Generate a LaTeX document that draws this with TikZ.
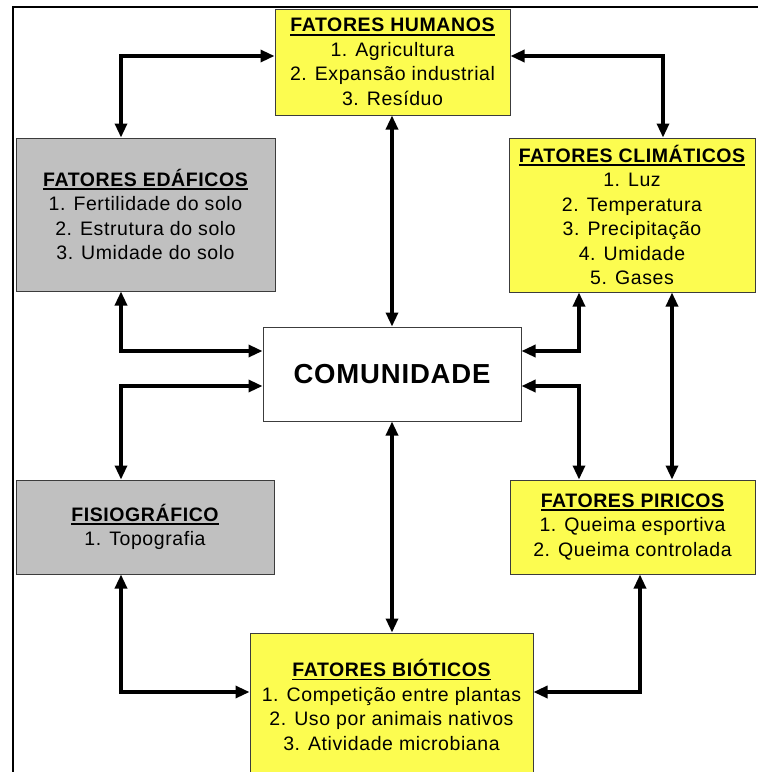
\documentclass[tikz,border=0pt]{standalone}
\usepackage{fontspec}
\setmainfont{Liberation Sans}[LetterSpace=3]
\usetikzlibrary{arrows.meta}

\definecolor{factoryellow}{RGB}{252,252,80}
\definecolor{factorgrey}{RGB}{192,192,192}
\definecolor{boxline}{RGB}{60,60,60}

% underlined bold heading of a factor box
\newcommand\boxhead[1]{\setbox0\hbox{\bfseries #1}\leavevmode\rlap{\rule[-3.6pt]{\wd0}{1.6pt}}\box0}

\begin{document}
\begin{tikzpicture}[x=1pt,y=-1pt,
  factor/.style={draw=boxline, line width=1pt, rectangle, inner sep=0pt,
    align=center, font=\fontsize{19.5}{24.5}\selectfont},
  yellowbox/.style={factor, fill=factoryellow},
  greybox/.style={factor, fill=factorgrey},
  conn/.style={line width=3.2pt,
    {Triangle[length=14pt,width=12pt]}-{Triangle[length=14pt,width=12pt]}}]

\useasboundingbox (0,0) rectangle (758,772);
\fill[white] (0,0) rectangle (758,772);

% outer frame (left and top sides only)
\draw[line width=2.5pt] (13,772) -- (13,7) -- (758,7);

% factor boxes
\node[yellowbox, minimum width=235pt, minimum height=106pt] (hum) at (392.5,62)
  {\boxhead{FATORES HUMANOS}\\1. Agricultura\\2. Expansão industrial\\3. Resíduo};
\node[yellowbox, minimum width=246pt, minimum height=154pt] (clim) at (632,215)
  {\boxhead{FATORES CLIMÁTICOS}\\1. Luz\\2. Temperatura\\3. Precipitação\\4. Umidade\\5. Gases};
\node[greybox, minimum width=259pt, minimum height=153pt] (eda) at (145.5,214.5)
  {\boxhead{FATORES EDÁFICOS}\\1. Fertilidade do solo\\2. Estrutura do solo\\3. Umidade do solo};
\node[factor, fill=white, minimum width=258pt, minimum height=94pt,
  font=\fontsize{27.5}{30}\selectfont\bfseries] (com) at (392,374) {COMUNIDADE};
\node[greybox, minimum width=258pt, minimum height=94pt] (fis) at (145,527)
  {\boxhead{FISIOGRÁFICO}\\1. Topografia};
\node[yellowbox, minimum width=245pt, minimum height=94pt] (pir) at (632.5,527)
  {\boxhead{FATORES PIRICOS}\\1. Queima esportiva\\2. Queima controlada};
\node[yellowbox, minimum width=283pt, minimum height=144pt] (bio) at (391.5,705)
  {\boxhead{FATORES BIÓTICOS}\\1. Competição entre plantas\\2. Uso por animais nativos\\3. Atividade microbiana};

% two-way connectors
\draw[conn] (hum.west |- 0,56) -| (eda.north -| 121,0);
\draw[conn] (hum.east |- 0,56) -| (clim.north -| 663,0);
\draw[conn] (hum.south -| 392,0) -- (com.north -| 392,0);
\draw[conn] (eda.south -| 121,0) |- (com.west |- 0,351);
\draw[conn] (fis.north -| 121,0) |- (com.west |- 0,386);
\draw[conn] (clim.south -| 579,0) |- (com.east |- 0,351);
\draw[conn] (pir.north -| 579,0) |- (com.east |- 0,386);
\draw[conn] (clim.south -| 672,0) -- (pir.north -| 672,0);
\draw[conn] (com.south -| 392,0) -- (bio.north -| 392,0);
\draw[conn] (fis.south -| 121,0) |- (bio.west |- 0,692);
\draw[conn] (pir.south -| 640,0) |- (bio.east |- 0,692);
\end{tikzpicture}
\end{document}
